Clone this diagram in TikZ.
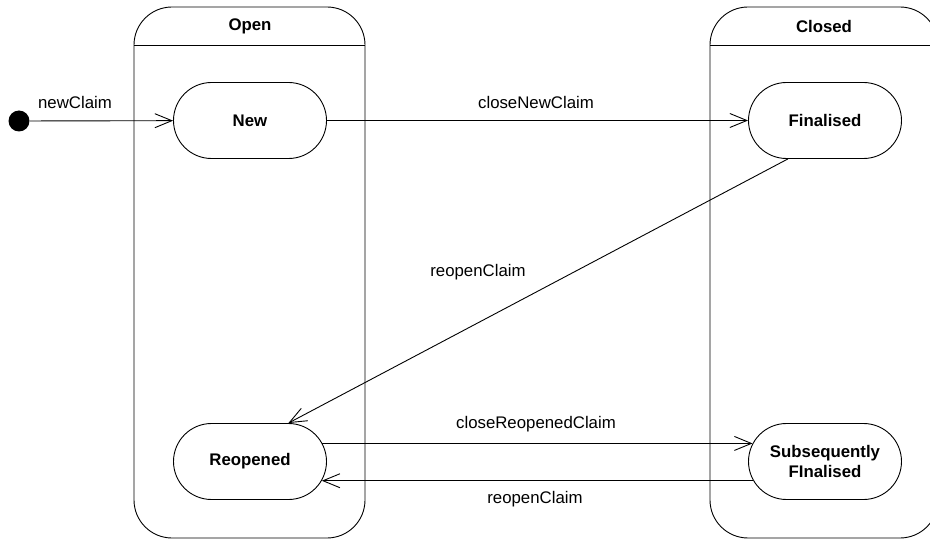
\documentclass[tikz,border=0pt]{standalone}
\usepackage{fontspec}
\setmainfont{Liberation Sans}
\usetikzlibrary{shapes.misc,arrows.meta}
\begin{document}
\begin{tikzpicture}[x=1pt,y=-1pt,line width=0.9pt,
  font=\fontsize{16.8}{19}\selectfont,
  state/.style={draw,rounded rectangle,minimum width=153pt,minimum height=76pt,font=\fontsize{16.8}{19.5}\selectfont\bfseries,align=center,inner sep=0pt},
  trans/.style={-{Straight Barb[length=17pt,width=14pt,line width=0.9pt]}},
  lbl/.style={inner sep=0pt},
  container/.style={draw,rounded corners=38pt}]
\useasboundingbox (0,0) rectangle (930,540);
% containers
\draw[container] (134,538) rectangle (365,7);
\draw (134,45) -- (365,45);
\node[lbl,font=\fontsize{16.8}{19}\selectfont\bfseries] (openT) at (250,26) {Open};
\draw[container] (710,538) rectangle (938,7);
\draw (710,45) -- (938,45);
\node[lbl,font=\fontsize{16.8}{19}\selectfont\bfseries] (closedT) at (824,26) {Closed};
% states
\node[circle,fill=black,minimum size=21pt,inner sep=0pt] (init) at (19,121) {};
\node[state] (new) at (250,120.5) {New};
\node[state] (fin) at (825,120.5) {Finalised};
\node[state] (reo) at (250,461.5) {Reopened};
\node[state] (subs) at (825,461.5) {Subsequently\\FInalised};
% transitions
\draw[trans] (init) -- (new);
\node[lbl] (l1) at (75,102) {newClaim};
\draw[trans] (new) -- (fin);
\node[lbl] (l2) at (536,102) {closeNewClaim};
\draw[trans] (fin.226) -- (reo.45);
\node[lbl] (l3) at (478,272) {reopenClaim};
\draw[trans] (reo.14) -- (subs.166);
\node[lbl] (l4) at (536,424) {closeReopenedClaim};
\draw[trans] (subs.195.6) -- (reo.-15.6);
\node[lbl] (l5) at (535,499) {reopenClaim};
\end{tikzpicture}
\end{document}
